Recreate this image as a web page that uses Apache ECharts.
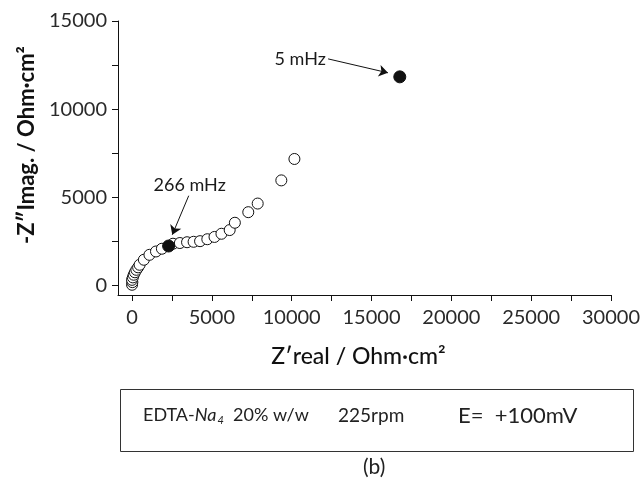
<!DOCTYPE html>
<html>
<head>
<meta charset="utf-8">
<script src="https://cdn.jsdelivr.net/npm/echarts@6/dist/echarts.min.js"></script>
<style>html,body{margin:0;padding:0;background:#fff}#c{width:643px;height:486px}</style>
</head>
<body>
<div id="c"></div>
<script>
// ---- data ----
var openPoints = [
  [0, 30], [20, 180], [0, 310], [50, 450], [105, 600], [180, 740], [270, 880], [380, 1020],
  [475, 1165], [740, 1450], [1090, 1730], [1500, 1920], [1870, 2075],
  [2565, 2360], [2995, 2400], [3445, 2445], [3855, 2470], [4260, 2505],
  [4715, 2615], [5165, 2745], [5600, 2925], [6115, 3135], [6440, 3550],
  [7280, 4150], [7870, 4640], [9350, 5955], [10170, 7170]
];
var filledPoints = [[2290, 2230], [16770, 11830]];
var annotationLabels = ['5 mHz', '266 mHz'];
var annotationPos = [[10530, 12810], [3610, 5710]];
var arrowStart = [[12280, 12850], [3550, 5085]];
var arrowEnd = [[16030, 12060], [2520, 2870]];
var xTickValues = [0, 2500, 5000, 7500, 10000, 12500, 15000, 17500, 20000, 22500, 25000, 27500, 30000];
var xLabelValues = [0, 5000, 10000, 15000, 20000, 25000, 30000];
var yTickValues = [0, 2500, 5000, 7500, 10000, 12500, 15000];
var yLabelValues = [0, 5000, 10000, 15000];
var xTitle = 'Z\u2032real / Ohm\u00b7cm\u00b2';
var yTitle = '-Z\u2033Imag. / Ohm\u00b7cm\u00b2';
var boxTexts = ['EDTA-', 'Na', '4', '  20% w/w', '225rpm', 'E=  +100mV'];
var panelLabel = '(b)';

// ---- chart ----
var FONT = 'Lato';
var chart = echarts.init(document.getElementById('c'), null, {renderer: 'canvas'});
function plain(v) { return String(v); }
var axisCommon = {
  type: 'value',
  splitLine: {show: false},
  axisLine: {show: true, onZero: false, lineStyle: {color: '#111', width: 1}},
  axisTick: {show: true, inside: false, length: 6, lineStyle: {color: '#111', width: 1}},
  axisLabel: {color: '#2a2a2a', fontFamily: FONT, fontSize: 20, formatter: plain},
  nameTextStyle: {color: '#111', fontFamily: FONT, fontSize: 22}
};
var option = {
  animation: false,
  backgroundColor: '#fff',
  grid: {left: 118, right: 23, top: 21, bottom: 191, containLabel: false},
  xAxis: echarts.util.merge({
    min: -880, max: 30000,
    name: xTitle, nameLocation: 'middle', nameGap: 50,
    axisTick: {customValues: xTickValues},
    axisLabel: {customValues: xLabelValues, margin: 13},
    nameTextStyle: {fontWeight: 500, fontSize: 23, padding: [0, 12, 0, 0]}
  }, axisCommon),
  yAxis: echarts.util.merge({
    min: -550, max: 15000,
    name: yTitle, nameLocation: 'middle', nameGap: 78, nameRotate: 90,
    axisTick: {customValues: yTickValues},
    axisLabel: {customValues: yLabelValues, margin: 11},
    nameTextStyle: {fontWeight: 'bold', padding: [0, 0, 0, 26]}
  }, axisCommon),
  series: [
    {
      type: 'scatter', name: 'open', data: openPoints, symbol: 'circle', symbolSize: 11,
      itemStyle: {color: '#fff', borderColor: '#111', borderWidth: 1, opacity: 1}, silent: true, z: 2
    },
    {
      type: 'scatter', name: 'filled', data: filledPoints, symbol: 'circle', symbolSize: 12,
      itemStyle: {color: '#111', borderColor: '#111', borderWidth: 1, opacity: 1}, silent: true, z: 3
    },
    {
      type: 'scatter', name: 'annot',
      data: annotationPos.map(function (p, i) { return {value: p, label: {formatter: annotationLabels[i]}}; }),
      symbolSize: 0, silent: true, z: 4,
      itemStyle: {opacity: 1},
      label: {show: true, position: 'inside', color: '#1a1a1a', fontFamily: FONT, fontSize: 18},
      markLine: {
        silent: true, animation: false,
        symbol: ['none', 'arrow'], symbolSize: 9,
        lineStyle: {color: '#111', width: 1, type: 'solid', opacity: 1},
        itemStyle: {color: '#111'},
        label: {show: false},
        data: arrowStart.map(function (s, i) { return [{coord: s}, {coord: arrowEnd[i]}]; })
      }
    }
  ],
  graphic: [
    {type: 'rect', left: 118, top: 387, shape: {width: 513, height: 62},
     style: {fill: 'none', stroke: '#333', lineWidth: 1}},
    {type: 'text', left: 143, top: 406, style: {
      text: '{a|' + boxTexts[0] + '}{i|' + boxTexts[1] + '}{s|' + boxTexts[2] + '}{a|' + boxTexts[3] + '}',
      rich: {
        a: {fontFamily: FONT, fontSize: 18, fill: '#222'},
        i: {fontFamily: FONT, fontSize: 18, fontStyle: 'italic', fill: '#222'},
        s: {fontFamily: FONT, fontSize: 11, fontStyle: 'italic', fill: '#222', padding: [10, 0, 0, 1]}
      }}},
    {type: 'text', left: 338, top: 406, style: {text: boxTexts[4], font: '19px Lato', fill: '#222'}},
    {type: 'text', left: 458, top: 405, style: {text: boxTexts[5], font: '22px Lato', fill: '#222'}},
    {type: 'text', left: 363, top: 457, style: {text: panelLabel, font: '21px Lato', fill: '#222'}}
  ]
};
chart.setOption(option);
</script>
</body>
</html>
